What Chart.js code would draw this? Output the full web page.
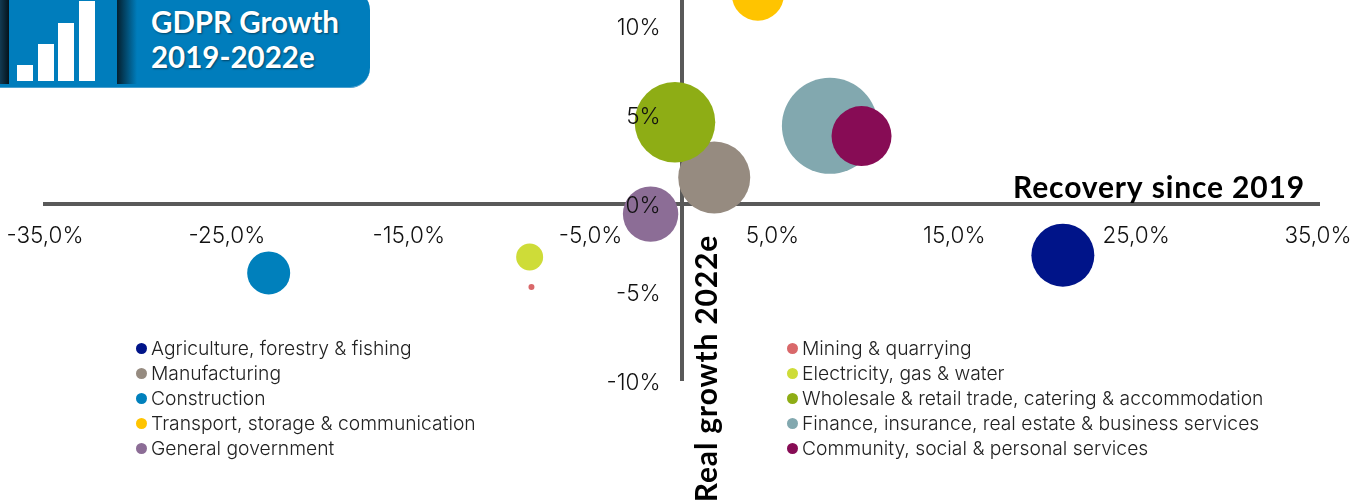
<!DOCTYPE html>
<html><head><meta charset="utf-8">
<script src="https://cdn.jsdelivr.net/npm/chart.js@4"></script>
<style>
html,body{margin:0;padding:0;background:#fff;width:1366px;height:500px;overflow:hidden;font-family:Inter,sans-serif}
#wrap{position:absolute;left:-3px;top:-110px;width:1369px;height:610px}
#hdr{position:absolute;left:0;top:-10px;width:370px;height:98px;background:#007DBC;border-radius:0 20px 20px 0;border-bottom:1px solid #4aa0cf;box-sizing:border-box;overflow:hidden}
.sh{position:absolute;top:6px;height:88px}
#hdr .b{position:absolute;background:#fff}
#hdr .t{position:absolute;left:151px;color:#fff;font:bold 29.5px Lato,sans-serif;text-shadow:1px 1px 2px rgba(0,0,0,.45);white-space:nowrap}
.lg{position:absolute;font:300 19.3px Inter,sans-serif;color:#222;white-space:nowrap;line-height:25px}
.lg i{position:absolute;width:11px;height:11px;border-radius:50%;top:7px}
.lg span{position:absolute;top:0}
</style></head><body>
<div id="wrap"><canvas id="c" width="1369" height="610"></canvas></div>
<div id="hdr">
  <div class="sh" style="left:0;width:9px;background:linear-gradient(90deg,#123a52,#04131c)"></div>
  <div class="sh" style="left:117px;width:20px;background:linear-gradient(90deg,#04202f,rgba(0,125,188,0))"></div>
  <div class="b" style="left:17px;top:75px;width:16px;height:16px"></div>
  <div class="b" style="left:38px;top:54px;width:16px;height:37px"></div>
  <div class="b" style="left:58px;top:33px;width:16px;height:58px"></div>
  <div class="b" style="left:79px;top:11px;width:16px;height:80px"></div>
  <div class="t" style="top:14px">GDPR Growth</div>
  <div class="t" style="top:49px">2019-2022e</div>
</div>
<div id="legend"></div>
<script>
const names=["Agriculture, forestry & fishing","Mining & quarrying","Manufacturing","Electricity, gas & water","Construction","Wholesale & retail trade, catering & accommodation","Transport, storage & communication","Finance, insurance, real estate & business services","General government","Community, social & personal services"];
const recovery=[20.97,-8.25,1.8,-8.35,-22.7,-0.36,4.2,8.16,-1.7,9.9];
const growth=[-2.9,-4.7,1.48,-3.0,-3.9,4.6,11.8,4.4,-0.58,3.82];
const sizes=[31.5,3,36,13.5,21.5,40.3,26,48,27.7,30];
const colors=["#001489","#D9686A","#968B80","#CEDC38","#0080BC","#8EAD15","#FFC400","#82A8AF","#8C6D96","#870C55"];
const xTicks=[-35,-25,-15,-5,0,5,15,25,35];
const yTicks=[-10,-5,0,5,10];
const xTitle="Recovery since 2019", yTitle="Real growth 2022e";
const tickFont={family:"Inter",size:22.5,weight:'300'};
const titles={id:'titles',afterDraw(ch){const c=ch.ctx;c.save();c.fillStyle='#000';c.font='bold 30px Lato';c.letterSpacing='0.85px';
 c.textAlign='right';c.textBaseline='middle';c.fillText(xTitle,1308,298);
 c.translate(710,478.5);c.rotate(-Math.PI/2);c.textAlign='center';c.fillText(yTitle,0,0);c.restore();}};
const axisFit=s=>{s.paddingLeft=s.paddingRight=s.paddingTop=s.paddingBottom=0;if(s.axis==='x')s.height=0;else s.width=0;};
const chart=new Chart(document.getElementById('c'),{type:'bubble',
 data:{datasets:names.map((n,i)=>({label:n,order:names.length-i,data:[{x:recovery[i],y:growth[i],r:sizes[i]}],backgroundColor:colors[i],borderWidth:0,hoverRadius:0}))},
 options:{responsive:false,animation:false,events:[],
  layout:{padding:{left:42,right:48,top:26,bottom:119}},
  plugins:{legend:{display:false},tooltip:{enabled:false}},
  scales:{
   x:{type:'linear',position:{y:0},min:-35,max:35,afterFit:axisFit,
      afterBuildTicks:a=>{a.ticks=xTicks.map(v=>({value:v}));},
      grid:{drawTicks:false,lineWidth:4,color:c=>c.tick&&c.tick.value===0?'#595959':'rgba(0,0,0,0)'},border:{color:'#595959',width:4},
      ticks:{z:1,padding:19,maxRotation:0,autoSkip:false,color:'#111',font:tickFont,callback:v=>v===0?'':v.toFixed(1).replace('.',',')+'%'}},
   y:{type:'linear',position:{x:-1.15},min:-10,max:15,afterFit:axisFit,
      afterBuildTicks:a=>{a.ticks=yTicks.map(v=>({value:v}));},
      grid:{display:false,drawTicks:false},border:{display:false},
      ticks:{z:1,labelOffset:2,autoSkip:false,color:'#111',font:tickFont,callback:v=>v+'%'}}
  }},plugins:[titles]});
const lg=document.getElementById('legend');
names.forEach((n,idx)=>{const col=idx%2,row=Math.floor(idx/2);
 const d=document.createElement('div');d.className='lg';d.style.left=(col?802:151)+'px';d.style.top=(336+row*25)+'px';
 d.innerHTML='<i style="left:-15px;background:'+colors[idx]+'"></i><span></span>';d.querySelector('span').textContent=n;lg.appendChild(d);});
</script></body></html>
